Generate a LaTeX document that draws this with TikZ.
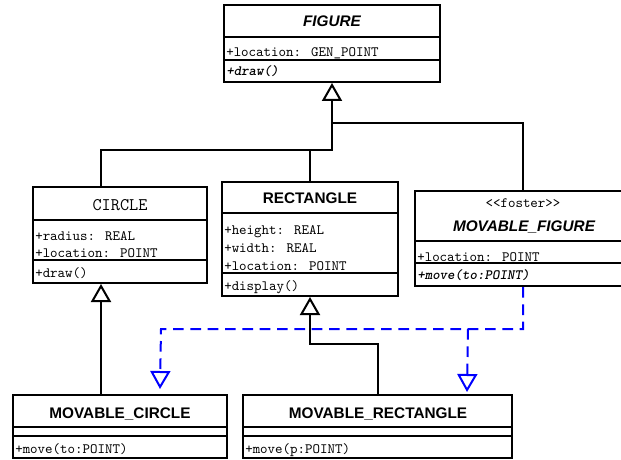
\documentclass[tikz,border=0pt]{standalone}
\usepackage{fontspec}
\usetikzlibrary{arrows.meta,fit,calc}
\newfontfamily\umlsans{Liberation Sans}
\newfontfamily\umlmono{Latin Modern Mono}
\newfontfamily\umlmonobi{lmmonolt10-boldoblique.otf}

\tikzset{
  classbox/.style={draw, line width=1.5pt, inner sep=0pt},
  sep/.style={line width=1.5pt},
  classname/.style={anchor=base, inner sep=0pt, font=\umlsans\bfseries\fontsize{11.5}{13}\selectfont},
  member/.style={anchor=base west, inner sep=0pt, font=\umlmono\fontsize{10.7}{12}\selectfont},
  operation/.style={member, font=\umlmonobi\fontsize{10.7}{12}\selectfont},
  gen/.style={line width=1.5pt, -{Triangle[open, length=13.5pt, width=15pt]}},
  real/.style={gen, blue, dash pattern=on 8pt off 5pt},
}

\begin{document}
\begin{tikzpicture}[x=0.75pt,y=0.75pt,yscale=-1,xscale=1]
    \useasboundingbox (0,0) rectangle (621,460);
    \clip (0,0) rectangle (621,460);

    %Class: FIGURE
    \node [classbox, fit={(224,5) (440,82)}] (figure) {};
    \draw [sep] (224,37) -- (440,37) (224,60) -- (440,60);
    \node [classname, font=\umlsans\bfseries\itshape\fontsize{11.5}{13}\selectfont] (figure-name) at (332,27) {FIGURE};
    \node [member] (figure-attr) at (226,57) {+location: GEN\_POINT};
    \node [operation] (figure-op) at (226,76) {+draw()};

    %Class: CIRCLE
    \node [classbox, fit={(33,187) (207,283)}] (circle) {};
    \draw [sep] (33,220) -- (207,220) (33,260) -- (207,260);
    \node [anchor=base, inner sep=0pt, font=\umlmono\fontsize{13.3}{15}\selectfont] (circle-name) at (120,210) {CIRCLE};
    \node [member] (circle-attr1) at (35,240) {+radius: REAL};
    \node [member] (circle-attr2) at (35,257) {+location: POINT};
    \node [member] (circle-op) at (35,277) {+draw()};

    %Class: RECTANGLE
    \node [classbox, fit={(222,182) (398,296)}] (rectangle) {};
    \draw [sep] (222,213) -- (398,213) (222,273) -- (398,273);
    \node [classname] (rectangle-name) at (310,203) {RECTANGLE};
    \node [member] (rectangle-attr1) at (224,234) {+height: REAL};
    \node [member] (rectangle-attr2) at (224,252) {+width: REAL};
    \node [member] (rectangle-attr3) at (224,270) {+location: POINT};
    \node [member] (rectangle-op) at (224,290) {+display()};

    %Class: MOVABLE_FIGURE
    \node [classbox, fit={(415,191) (631,286)}] (mfigure) {};
    \draw [sep] (415,241) -- (631,241) (415,263) -- (631,263);
    \node [anchor=base, inner sep=0pt, font=\umlmono\fontsize{10.7}{12}\selectfont] (mfigure-stereo) at (523,207) {<\kern0pt<foster>\kern0pt>};
    \node [classname, font=\umlsans\bfseries\itshape\fontsize{11.5}{13}\selectfont] (mfigure-name) at (524,231) {MOVABLE\_FIGURE};
    \node [member] (mfigure-attr) at (417,261) {+location: POINT};
    \node [operation] (mfigure-op) at (417,279) {+move(to:POINT)};

    %Class: MOVABLE_CIRCLE
    \node [classbox, fit={(13,395) (227,458)}] (mcircle) {};
    \draw [sep] (13,427) -- (227,427) (13,436) -- (227,436);
    \node [classname] (mcircle-name) at (120,418) {MOVABLE\_CIRCLE};
    \node [member] (mcircle-op) at (15,453) {+move(to:POINT)};

    %Class: MOVABLE_RECTANGLE
    \node [classbox, fit={(243,395) (512,458)}] (mrectangle) {};
    \draw [sep] (243,427) -- (512,427) (243,436) -- (512,436);
    \node [classname] (mrectangle-name) at (378,418) {MOVABLE\_RECTANGLE};
    \node [member] (mrectangle-op) at (245,453) {+move(p:POINT)};

    %Generalization
    \coordinate (genbar) at (332,150);
    \coordinate (genfork) at (332,123);
    \coordinate (rectbend) at (310,344);
    \draw [gen] ($(circle.north west)+(69,0)$) |- (genbar) -- (figure.south);
    \draw [sep] (rectangle.north) -- (rectangle.north |- genbar);
    \draw [sep] (mfigure.north) |- (genfork);
    \draw [gen] ($(mcircle.north west)+(89,0)$) -- ($(circle.south west)+(69,0)$);
    \draw [gen] (mrectangle.north) |- (rectbend) -- (rectangle.south);

    %Realization
    \coordinate (realbar) at (161,329);
    \coordinate (realfork) at (468,329);
    \draw [real] (mfigure.south) |- (realbar) -- ($(mcircle.north west)+(148,-5)$);
    \draw [real] (realfork) -- ($(mrectangle.north west)+(225,-2)$);

\end{tikzpicture}
\end{document}
